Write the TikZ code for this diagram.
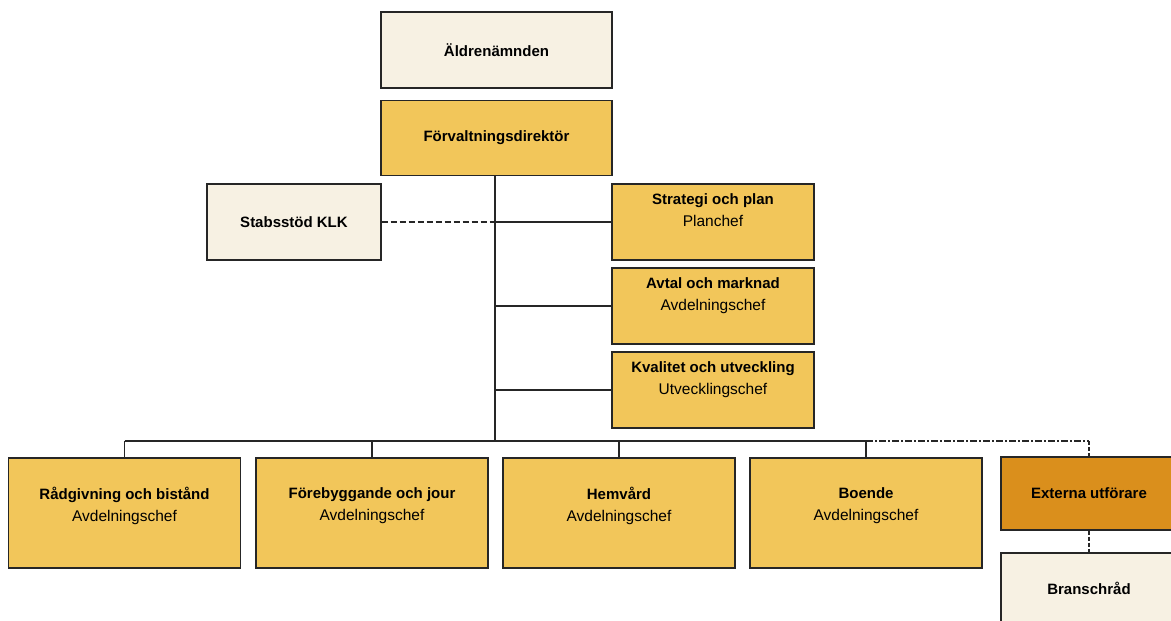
\documentclass[tikz,border=0pt]{standalone}
\usepackage{fontspec}
\setmainfont{Liberation Sans}
\definecolor{cream}{HTML}{F7F1E3}
\definecolor{gold}{HTML}{F2C65A}
\definecolor{amber}{HTML}{DA8F1C}
\definecolor{ink}{HTML}{262626}
\newcommand{\hd}[1]{{\fontsize{15}{22}\selectfont\bfseries #1}}
\newcommand{\lift}[1]{\\[#1]\mbox{}}
\tikzset{
 box/.style={draw=ink,line width=1.4pt,inner sep=0pt,align=center,
   font=\fontsize{15.5}{22}\selectfont},
 lightbox/.style={box,fill=cream},
 chefbox/.style={box,fill=gold},
 link/.style={draw=ink,line width=1.4pt},
 stabline/.style={link,dash pattern=on 6pt off 3pt},
 extline/.style={link,dash pattern=on 7pt off 2pt on 2pt off 2pt},
 dotline/.style={link,dash pattern=on 4pt off 2pt}
}
\begin{document}
\begin{tikzpicture}[x=1pt,y=-1pt]
 \useasboundingbox (0,0) rectangle (1171,621);
 \clip (0,0) rectangle (1171,621);
 % top
 \node[lightbox,minimum width=231,minimum height=76] (alder) at (496.5,50) {\hd{Äldrenämnden}};
 \node[chefbox,minimum width=231,minimum height=75] (forv) at (496.5,138) {\hd{Förvaltningsdirektör}};
 \node[lightbox,minimum width=174,minimum height=76] (stab) at (294,222) {\hd{Stabsstöd KLK}};
 % staff units
 \node[chefbox,minimum width=202,minimum height=76] (strat) at (713,222) {\hd{Strategi och plan}\\Planchef\lift{2pt}};
 \node[chefbox,minimum width=202,minimum height=76] (avtal) at (713,306) {\hd{Avtal och marknad}\\Avdelningschef\lift{2pt}};
 \node[chefbox,minimum width=202,minimum height=76] (kval) at (713,390) {\hd{Kvalitet och utveckling}\\Utvecklingschef\lift{2pt}};
 % departments
 \node[chefbox,minimum width=232,minimum height=110] (rad) at (124.5,513) {\hd{Rådgivning och bistånd}\\Avdelningschef\lift{-4pt}};
 \node[chefbox,minimum width=232,minimum height=110] (fore) at (372,513) {\hd{Förebyggande och jour}\\Avdelningschef\lift{-4pt}};
 \node[chefbox,minimum width=232,minimum height=110] (hem) at (619,513) {\hd{Hemvård}\\Avdelningschef\lift{-4pt}};
 \node[chefbox,minimum width=232,minimum height=110] (boe) at (866,513) {\hd{Boende}\\Avdelningschef\lift{-4pt}};
 \node[box,fill=amber,minimum width=176,minimum height=73] (ext) at (1089,493.5) {\hd{Externa utförare}};
 \node[lightbox,minimum width=176,minimum height=70] (bransch) at (1089,588) {\hd{Branschråd}};
 % connectors
 \coordinate (bus) at (495,441);
 \draw[link] (forv.south -| bus) -- (bus);
 \draw[stabline] (stab.east) -- (stab.east -| bus);
 \draw[link] (strat.west -| bus) -- (strat.west);
 \draw[link] (avtal.west -| bus) -- (avtal.west);
 \draw[link] (kval.west -| bus) -- (kval.west);
 \draw[link] (rad.north |- bus) -- (boe.north |- bus);
 \draw[link] (rad.north) -- (rad.north |- bus);
 \draw[link] (fore.north) -- (fore.north |- bus);
 \draw[link] (hem.north) -- (hem.north |- bus);
 \draw[link] (boe.north) -- (boe.north |- bus);
 \draw[extline] (boe.north |- bus) -- (ext.north |- bus);
 \draw[dotline] (ext.north |- bus) -- (ext.north);
 \draw[dotline] (ext.south) -- (bransch.north);
\end{tikzpicture}
\end{document}
